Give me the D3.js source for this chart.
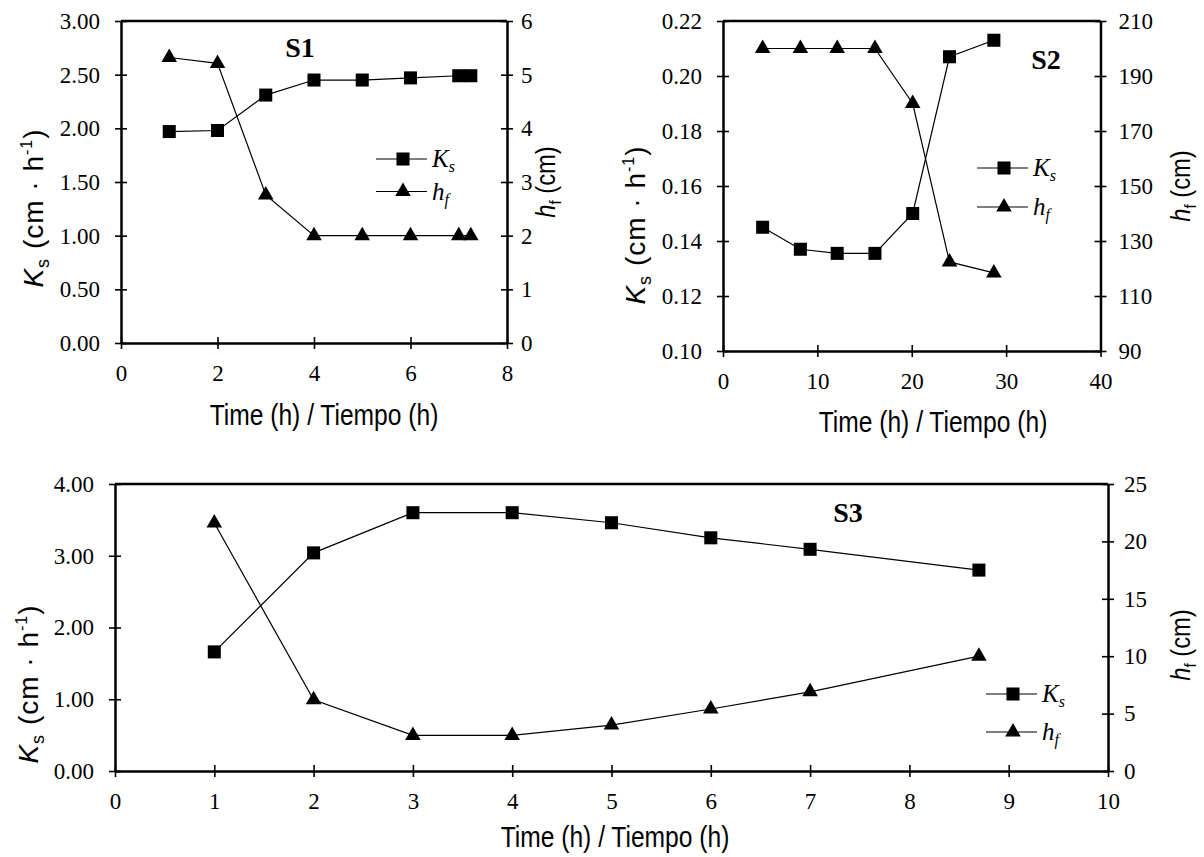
<!DOCTYPE html>
<html>
<head>
<meta charset="utf-8">
<script src="https://cdn.jsdelivr.net/npm/d3@7"></script>
<style>
  body { margin: 0; background: #fff; }
  svg { display: block; }
</style>
</head>
<body>
<script>
// S1 data
const s1Time = [1, 2, 3, 4, 5, 6, 7, 7.25];
const s1Ks = [1.97, 1.98, 2.31, 2.45, 2.45, 2.47, 2.49, 2.49];
const s1Hf = [5.32, 5.21, 2.76, 2, 2, 2, 2, 2];
const s1TimeTicks = [0, 2, 4, 6, 8];
const s1KsTicks = [0, 0.5, 1, 1.5, 2, 2.5, 3];
const s1HfTicks = [0, 1, 2, 3, 4, 5, 6];

// S2 data
const s2Time = [4.2, 8.2, 12.1, 16.1, 20.1, 24.0, 28.7];
const s2Ks = [0.145, 0.137, 0.1355, 0.1355, 0.150, 0.207, 0.213];
const s2Hf = [200, 200, 200, 200, 180, 122.4, 118.4];
const s2TimeTicks = [0, 10, 20, 30, 40];
const s2KsTicks = [0.10, 0.12, 0.14, 0.16, 0.18, 0.20, 0.22];
const s2HfTicks = [90, 110, 130, 150, 170, 190, 210];

// S3 data
const s3Time = [1, 2, 3, 4, 5, 6, 7, 8.7];
const s3Ks = [1.66, 3.04, 3.60, 3.60, 3.46, 3.25, 3.09, 2.80];
const s3Hf = [21.6, 6.2, 3.1, 3.1, 4.0, 5.4, 6.9, 10.0];
const s3TimeTicks = [0, 1, 2, 3, 4, 5, 6, 7, 8, 9, 10];
const s3KsTicks = [0, 1, 2, 3, 4];
const s3HfTicks = [0, 5, 10, 15, 20, 25];

const serif = '"Liberation Serif", "Times New Roman", serif';
const sans = '"Liberation Sans", Arial, sans-serif';

const svg = d3.select("body").append("svg")
    .attr("width", 1204)
    .attr("height", 857)
    .style("background", "#fff");

function drawPanel(p) {
    const x = d3.scaleLinear().domain(d3.extent(p.timeTicks)).range([p.left, p.right]);
    const yKs = d3.scaleLinear().domain(d3.extent(p.ksTicks)).range([p.bottom, p.top]);
    const yHf = d3.scaleLinear().domain(d3.extent(p.hfTicks)).range([p.bottom, p.top]);
    const g = svg.append("g");

    // top frame line
    g.append("line")
        .attr("x1", x.range()[0]).attr("x2", x.range()[1])
        .attr("y1", yKs.range()[1]).attr("y2", yKs.range()[1])
        .attr("stroke", "#000").attr("stroke-width", 2.5);

    // axes: outer ticks with labels, plus inner ticks (cross marks)
    function styleAxis(sel) {
        sel.attr("font-family", serif).attr("font-size", 23);
        sel.select(".domain").attr("stroke-width", 2.5);
        sel.selectAll(".tick line").attr("stroke-width", 1.6);
        sel.selectAll(".tick text").attr("fill", "#000")
            .style("font-family", serif).style("font-size", "23px");
    }
    function innerTicks(sel) {
        sel.select(".domain").remove();
        sel.selectAll(".tick line").attr("stroke-width", 1.6);
    }

    g.append("g").attr("transform", `translate(0,${p.bottom})`)
        .call(d3.axisBottom(x).tickValues(p.timeTicks).tickFormat(d3.format("d"))
            .tickSize(6).tickSizeOuter(0).tickPadding(16))
        .call(styleAxis);
    g.append("g").attr("transform", `translate(0,${p.bottom})`)
        .call(d3.axisBottom(x).tickValues(p.timeTicks).tickFormat("").tickSize(-6))
        .call(innerTicks);

    g.append("g").attr("transform", `translate(${p.left},0)`)
        .call(d3.axisLeft(yKs).tickValues(p.ksTicks).tickFormat(d3.format(".2f"))
            .tickSize(6).tickSizeOuter(0).tickPadding(15))
        .call(styleAxis);
    g.append("g").attr("transform", `translate(${p.left},0)`)
        .call(d3.axisLeft(yKs).tickValues(p.ksTicks).tickFormat("").tickSize(-6))
        .call(innerTicks);

    g.append("g").attr("transform", `translate(${p.right},0)`)
        .call(d3.axisRight(yHf).tickValues(p.hfTicks).tickFormat(d3.format("d"))
            .tickSize(6).tickSizeOuter(0).tickPadding(p.rightPad))
        .call(styleAxis);
    g.append("g").attr("transform", `translate(${p.right},0)`)
        .call(d3.axisRight(yHf).tickValues(p.hfTicks).tickFormat("").tickSize(-6))
        .call(innerTicks);

    // series lines
    const ksData = p.time.map((t, i) => [t, p.ks[i]]);
    const hfData = p.time.map((t, i) => [t, p.hf[i]]);

    g.append("path").datum(ksData)
        .attr("fill", "none").attr("stroke", "#000").attr("stroke-width", 1.2)
        .attr("d", d3.line().x(d => x(d[0])).y(d => yKs(d[1])));
    g.append("path").datum(hfData)
        .attr("fill", "none").attr("stroke", "#000").attr("stroke-width", 1.2)
        .attr("d", d3.line().x(d => x(d[0])).y(d => yHf(d[1])));

    const square = d3.symbol().type(d3.symbolSquare).size(170);
    const triangle = d3.symbol().type(d3.symbolTriangle).size(105);

    g.selectAll(".ks-pt").data(ksData).join("path")
        .attr("class", "ks-pt")
        .attr("d", square)
        .attr("transform", d => `translate(${x(d[0])},${yKs(d[1])})`);
    g.selectAll(".hf-pt").data(hfData).join("path")
        .attr("class", "hf-pt")
        .attr("d", triangle)
        .attr("transform", d => `translate(${x(d[0])},${yHf(d[1])})`);

    // panel title
    g.append("text")
        .attr("x", p.title[1]).attr("y", p.title[2])
        .attr("text-anchor", "middle")
        .attr("font-family", serif).attr("font-weight", "bold").attr("font-size", 28)
        .text(p.title[0]);

    // legend
    const lg = g.append("g").attr("transform", `translate(${p.legend[0]},${p.legend[1]})`);
    [["K", "s", square], ["h", "f", triangle]].forEach((item, i) => {
        const row = lg.append("g").attr("transform", `translate(0,${i * p.legend[2]})`);
        row.append("line").attr("x1", 0).attr("x2", 51)
            .attr("stroke", "#000").attr("stroke-width", 1.2);
        row.append("path").attr("d", item[2]).attr("transform", "translate(27,0)");
        const t = row.append("text").attr("x", 56).attr("y", 8)
            .attr("font-family", serif).attr("font-style", "italic").attr("font-size", 25);
        t.append("tspan").text(item[0]);
        t.append("tspan").attr("font-size", 16).attr("dy", 5).text(item[1]);
    });

    // y axis labels
    const kl = g.append("text")
        .attr("transform", `translate(${p.ksLabel[0]},${p.ksLabel[1]}) rotate(-90)`)
        .attr("text-anchor", "middle")
        .attr("font-family", sans).attr("font-size", 28)
        .attr("letter-spacing", 1);
    kl.append("tspan").attr("font-style", "italic").text("K");
    kl.append("tspan").attr("font-size", 18).attr("dy", 6).text("s");
    kl.append("tspan").attr("dy", -6).text(" (cm · h");
    kl.append("tspan").attr("font-size", 16).attr("dy", -11).text("-1");
    kl.append("tspan").attr("dy", 11).text(")");

    const hl = g.append("text")
        .attr("transform", `translate(${p.hfLabel[0]},${p.hfLabel[1]}) rotate(-90) scale(0.88,1)`)
        .attr("text-anchor", "middle")
        .attr("font-family", sans).attr("font-size", 27);
    hl.append("tspan").attr("font-style", "italic").text("h");
    hl.append("tspan").attr("font-size", 17).attr("dy", 6).text("f");
    hl.append("tspan").attr("dy", -6).text(" (cm)");

    // x axis label
    g.append("text")
        .attr("transform", `translate(${p.timeLabel[0]},${p.timeLabel[1]}) scale(0.82,1)`)
        .attr("text-anchor", "middle")
        .attr("font-family", sans).attr("font-size", 30)
        .text("Time (h) / Tiempo (h)");
}

drawPanel({
    time: s1Time, ks: s1Ks, hf: s1Hf,
    timeTicks: s1TimeTicks, ksTicks: s1KsTicks, hfTicks: s1HfTicks,
    left: 121, right: 507, top: 21, bottom: 343, rightPad: 8,
    title: ["S1", 300, 57], legend: [376, 159, 32.5],
    ksLabel: [43, 208], hfLabel: [555, 182], timeLabel: [324, 425]
});

drawPanel({
    time: s2Time, ks: s2Ks, hf: s2Hf,
    timeTicks: s2TimeTicks, ksTicks: s2KsTicks, hfTicks: s2HfTicks,
    left: 723, right: 1100.5, top: 21, bottom: 351, rightPad: 12,
    title: ["S2", 1046, 69], legend: [977, 168, 39],
    ksLabel: [645, 225], hfLabel: [1190, 186], timeLabel: [933, 432]
});

drawPanel({
    time: s3Time, ks: s3Ks, hf: s3Hf,
    timeTicks: s3TimeTicks, ksTicks: s3KsTicks, hfTicks: s3HfTicks,
    left: 115, right: 1108, top: 484, bottom: 771, rightPad: 10,
    title: ["S3", 848, 522], legend: [986, 694, 38],
    ksLabel: [38, 684], hfLabel: [1190, 645], timeLabel: [615, 847]
});
</script>
</body>
</html>
